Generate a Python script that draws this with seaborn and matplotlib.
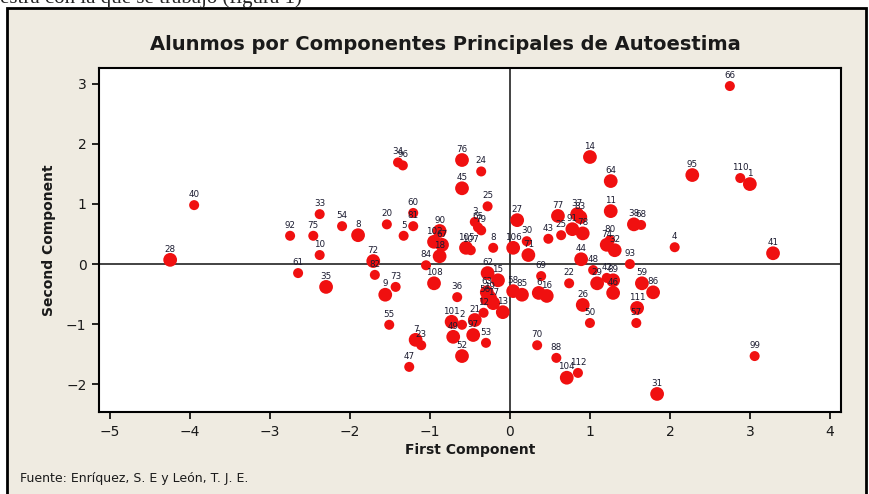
import matplotlib
matplotlib.use("Agg")
import matplotlib.pyplot as plt
import seaborn as sns
import pandas as pd
from matplotlib.patches import Rectangle

# scores on the first two principal components
first_comp = [-4.25, -3.95, -2.75, -2.46, -2.38, -2.10, -1.90, -2.38, -2.65, -2.30,
              -1.71, -1.69, -1.56, -1.43, -1.51, -1.18, -1.11, -1.26, -0.95, -1.05,
              -0.66, -0.73, -0.60, -0.44, -0.71, -0.46, -0.30, -0.60, -0.28, -0.15,
              -0.29, -0.25, -0.31, -0.21, -0.33, -0.09, 0.04, 0.15, 0.36, 0.46,
              0.39, 0.74, 0.34, 0.58, 0.85, 0.71, 0.91, 1.00, 1.84, 1.59,
              1.58, 1.09, 1.29, 1.29, 1.21, 1.04, 0.89, 1.31, 1.50, 1.65,
              1.79, 3.06, 2.75, 2.28, 2.88, 3.00, 2.06, 3.29, 1.55, 1.64,
              -1.40, -1.34, -0.60, -0.36, -0.60, -0.28, -1.54, -1.21, -1.21, -1.33,
              -0.88, -0.95, -0.85, -0.88, -0.55, -0.49, -0.44, -0.40, -0.36, -0.21,
              0.04, 0.09, 0.21, 0.23, 0.48, 0.60, 0.84, 0.88, 0.64, 0.78,
              0.91, 1.00, 1.26, 1.26, 1.21, 1.25]
second_comp = [0.07, 0.98, 0.47, 0.47, 0.83, 0.63, 0.48, 0.15, -0.15, -0.38,
               0.05, -0.18, -0.51, -0.38, -1.01, -1.26, -1.35, -1.71, -0.32, -0.02,
               -0.55, -0.96, -1.01, -0.93, -1.21, -1.18, -1.31, -1.53, -0.15, -0.27,
               -0.47, -0.56, -0.60, -0.65, -0.81, -0.80, -0.45, -0.51, -0.48, -0.53,
               -0.20, -0.32, -1.35, -1.56, -1.81, -1.89, -0.68, -0.98, -2.16, -0.73,
               -0.98, -0.32, -0.27, -0.48, -0.23, -0.10, 0.08, 0.23, 0.00, -0.32,
               -0.47, -1.53, 2.96, 1.48, 1.43, 1.33, 0.28, 0.18, 0.66, 0.65,
               1.69, 1.64, 1.73, 1.54, 1.26, 0.96, 0.66, 0.85, 0.63, 0.47,
               0.55, 0.37, 0.32, 0.13, 0.27, 0.23, 0.70, 0.61, 0.56, 0.27,
               0.27, 0.73, 0.38, 0.15, 0.42, 0.80, 0.83, 0.78, 0.48, 0.58,
               0.51, 1.78, 1.38, 0.88, 0.32, 0.40]
# student number shown next to each point
student = ["28", "40", "92", "75", "33", "54", "8", "10", "61", "35",
           "72", "82", "9", "73", "55", "7", "23", "47", "108", "84",
           "36", "101", "2", "21", "49", "97", "53", "52", "62", "15",
           "63", "19", "56", "17", "12", "13", "58", "85", "6", "16",
           "69", "22", "70", "88", "112", "104", "26", "50", "31", "111",
           "57", "29", "89", "46", "42", "48", "44", "32", "93", "59",
           "86", "99", "66", "95", "110", "1", "4", "41", "38", "68",
           "34", "96", "76", "24", "45", "25", "20", "60", "81", "5",
           "90", "102", "67", "18", "105", "107", "3", "65", "79", "8",
           "106", "27", "30", "71", "43", "77", "37", "83", "25", "91",
           "78", "14", "64", "11", "74", "80"]
# how many students fall on (nearly) the same spot
stacked = [2, 1, 1, 1, 1, 1, 2, 1, 1, 2,
           2, 1, 2, 1, 1, 2, 1, 1, 2, 1,
           1, 2, 1, 2, 2, 2, 1, 2, 2, 2,
           2, 2, 1, 2, 1, 2, 2, 2, 2, 2,
           1, 1, 1, 1, 1, 2, 2, 1, 2, 2,
           1, 2, 2, 2, 1, 1, 2, 2, 1, 2,
           2, 1, 1, 2, 1, 2, 1, 2, 2, 1,
           1, 1, 2, 1, 2, 1, 1, 1, 1, 1,
           2, 2, 2, 2, 2, 1, 1, 1, 1, 1,
           2, 2, 1, 2, 1, 2, 2, 2, 1, 2,
           2, 2, 2, 2, 2, 1]

df = pd.DataFrame({"pc1": first_comp, "pc2": second_comp,
                   "label": student, "n": stacked})

sns.set_theme(style="ticks")
plt.rcParams["font.family"] = ["DejaVu Sans"]

beige = "#efebe1"
fig = plt.figure(figsize=(8.7, 4.94), dpi=100, facecolor="white")

# beige panel with black frame, like the pasted Minitab graph
fig.patches.append(Rectangle((7 / 870, -0.02), 859 / 870, 1.02 - 8 / 494,
                             transform=fig.transFigure, facecolor=beige,
                             edgecolor="black", linewidth=2, zorder=-10))
# cut-off line of the document text above the graph
fig.text(0.0, 1 - 3 / 494, "estra con la que se trabajo (figura 1)",
         family="Liberation Serif", fontsize=15, ha="left", va="baseline",
         zorder=-5)

ax = fig.add_axes([99 / 870, 1 - 412 / 494, 742 / 870, 344 / 494])
ax.set_facecolor("white")

sns.scatterplot(data=df, x="pc1", y="pc2", size="n", sizes={1: 52, 2: 98},
                color="#f01010", linewidth=0, legend=False, ax=ax, zorder=3)

for xx, yy, lab in zip(df["pc1"], df["pc2"], df["label"]):
    ax.annotate(lab, (xx, yy), xytext=(0, 4.5), textcoords="offset points",
                ha="center", va="bottom", fontsize=6.3, color="#1b1b30",
                zorder=4)

ax.axhline(0, color="#222222", lw=1.2, zorder=2)
ax.axvline(0, color="#222222", lw=1.2, zorder=2)

ax.set_xlim(-5.14, 4.14)
ax.set_ylim(-2.46, 3.26)
ax.set_xticks(range(-5, 5))
ax.set_yticks(range(-2, 4))
ax.tick_params(direction="out", length=5, width=1.2, color="black",
               labelsize=10, pad=4, labelcolor="#1a1a1a")
for sp in ax.spines.values():
    sp.set_color("black")
    sp.set_linewidth(1.5)

ax.set_xlabel("First Component", fontsize=10, fontweight="bold",
              color="#1a1a1a", labelpad=3)
ax.set_ylabel("Second Component", fontsize=10, fontweight="bold",
              color="#1a1a1a", labelpad=7)

fig.text(445 / 870, 1 - 45 / 494, "Alunmos por Componentes Principales de Autoestima",
         ha="center", va="center", fontsize=14, fontweight="bold", color="#1a1a1a")
fig.text(20 / 870, 1 - 478 / 494, "Fuente: Enríquez, S. E y León, T. J. E.",
         ha="left", va="center", fontsize=9, color="#1a1a1a")

fig.savefig("out.png", dpi=100, facecolor=fig.get_facecolor())
